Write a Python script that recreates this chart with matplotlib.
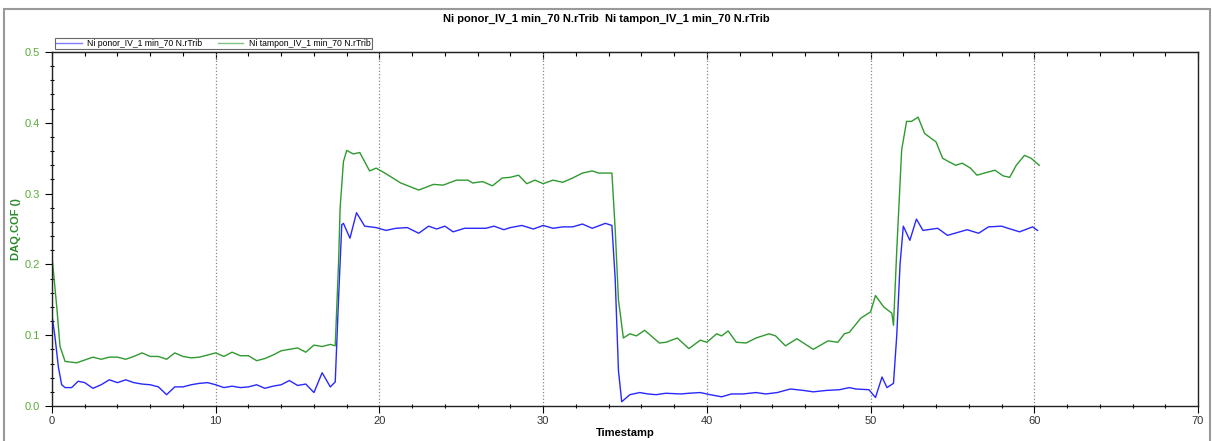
import matplotlib
matplotlib.use('Agg')
import matplotlib.pyplot as plt
from matplotlib.patches import Rectangle
from matplotlib.ticker import MultipleLocator

plt.rcParams['font.family'] = ['Liberation Sans', 'DejaVu Sans']

# Ni ponor (blue)
ponor_t = [0.0, 0.18, 0.39, 0.59, 0.8, 1.2, 1.6, 2.0, 2.5, 3.0, 3.5, 4.0, 4.5, 5.0,
           5.5, 6.0, 6.5, 7.0, 7.5, 8.0, 8.5, 9.0, 9.5, 10.0, 10.5, 11.0, 11.5, 12.0,
           12.5, 13.0, 13.5, 14.0, 14.5, 15.0, 15.5, 16.0, 16.5, 17.0, 17.3, 17.5,
           17.7, 17.8, 18.2, 18.6, 19.1, 19.8, 20.4, 21.0, 21.7, 22.4, 23.0, 23.5,
           24.0, 24.5, 25.2, 25.8, 26.5, 27.0, 27.6, 28.0, 28.7, 29.4, 30.0, 30.6,
           31.2, 31.8, 32.4, 33.0, 33.8, 34.2, 34.4, 34.6, 34.8, 35.3, 35.9, 36.4,
           36.9, 37.5, 38.4, 38.9, 39.6, 40.2, 40.9, 41.5, 42.2, 43.0, 43.6, 44.3,
           45.1, 45.9, 46.5, 47.3, 48.1, 48.7, 49.1, 49.9, 50.3, 50.7, 51.0, 51.4,
           51.6, 51.8, 52.0, 52.4, 52.8, 53.2, 54.1, 54.7, 55.9, 56.6, 57.2, 58.0,
           58.4, 59.1, 59.9, 60.2]
ponor_cof = [0.128, 0.098, 0.055, 0.030, 0.026, 0.026, 0.035, 0.033, 0.025, 0.030,
             0.037, 0.033, 0.037, 0.033, 0.031, 0.030, 0.027, 0.016, 0.027, 0.027,
             0.030, 0.032, 0.033, 0.030, 0.026, 0.028, 0.026, 0.027, 0.030, 0.025,
             0.028, 0.030, 0.036, 0.029, 0.031, 0.019, 0.047, 0.027, 0.034, 0.150,
             0.256, 0.258, 0.237, 0.273, 0.254, 0.252, 0.248, 0.251, 0.252, 0.244,
             0.254, 0.250, 0.254, 0.246, 0.251, 0.251, 0.251, 0.254, 0.249, 0.252,
             0.255, 0.250, 0.255, 0.251, 0.253, 0.253, 0.257, 0.251, 0.258, 0.255,
             0.180, 0.050, 0.006, 0.016, 0.019, 0.017, 0.016, 0.018, 0.017, 0.018,
             0.019, 0.016, 0.013, 0.017, 0.017, 0.019, 0.017, 0.019, 0.024, 0.022,
             0.020, 0.022, 0.023, 0.026, 0.024, 0.023, 0.012, 0.041, 0.026, 0.032,
             0.100, 0.200, 0.254, 0.234, 0.264, 0.248, 0.251, 0.241, 0.249, 0.244,
             0.253, 0.254, 0.251, 0.246, 0.253, 0.248]

# Ni tampon (green)
tampon_t = [0.0, 0.29, 0.49, 0.8, 1.5, 2.0, 2.5, 3.0, 3.5, 4.0, 4.5, 5.0, 5.5, 6.0,
            6.5, 7.0, 7.5, 8.0, 8.5, 9.0, 9.5, 10.0, 10.5, 11.0, 11.5, 12.0, 12.5,
            13.0, 13.5, 14.0, 14.5, 15.0, 15.5, 16.0, 16.5, 17.0, 17.3, 17.5, 17.6,
            17.8, 18.0, 18.4, 18.8, 19.4, 19.8, 20.4, 21.3, 22.4, 23.3, 23.9, 24.7,
            25.4, 25.7, 26.3, 26.9, 27.5, 28.0, 28.5, 29.0, 29.5, 30.0, 30.6, 31.2,
            31.8, 32.4, 33.0, 33.4, 34.2, 34.4, 34.6, 34.9, 35.3, 35.7, 36.2, 36.6,
            37.1, 37.5, 38.2, 38.9, 39.6, 40.0, 40.6, 40.9, 41.3, 41.8, 42.4, 43.0,
            43.8, 44.2, 44.8, 45.5, 46.5, 47.4, 48.0, 48.4, 48.7, 49.4, 50.0, 50.3,
            50.8, 51.3, 51.4, 51.6, 51.9, 52.2, 52.5, 52.9, 53.3, 53.7, 54.0, 54.4,
            54.7, 55.2, 55.6, 56.1, 56.5, 57.1, 57.6, 58.1, 58.5, 58.9, 59.4, 59.8,
            60.3]
tampon_cof = [0.211, 0.140, 0.084, 0.063, 0.061, 0.065, 0.069, 0.066, 0.069, 0.069,
              0.066, 0.070, 0.075, 0.070, 0.070, 0.066, 0.075, 0.070, 0.068, 0.069,
              0.072, 0.075, 0.070, 0.076, 0.071, 0.071, 0.064, 0.067, 0.072, 0.078,
              0.080, 0.082, 0.076, 0.086, 0.084, 0.087, 0.085, 0.200, 0.280, 0.345,
              0.361, 0.356, 0.358, 0.332, 0.336, 0.328, 0.315, 0.305, 0.313, 0.312,
              0.319, 0.319, 0.315, 0.317, 0.311, 0.322, 0.323, 0.326, 0.314, 0.319,
              0.314, 0.319, 0.316, 0.322, 0.329, 0.332, 0.329, 0.329, 0.250, 0.150,
              0.096, 0.102, 0.099, 0.107, 0.099, 0.089, 0.090, 0.096, 0.081, 0.093,
              0.090, 0.102, 0.099, 0.106, 0.090, 0.089, 0.096, 0.102, 0.099, 0.085,
              0.095, 0.080, 0.092, 0.090, 0.102, 0.104, 0.124, 0.133, 0.156, 0.140,
              0.131, 0.114, 0.220, 0.362, 0.402, 0.402, 0.408, 0.385, 0.378, 0.373,
              0.350, 0.346, 0.340, 0.343, 0.336, 0.326, 0.330, 0.333, 0.325, 0.323,
              0.340, 0.354, 0.350, 0.340]

label_ponor = 'Ni ponor_IV_1 min_70 N.rTrib'
label_tampon = 'Ni tampon_IV_1 min_70 N.rTrib'

green = '#2f9a2f'
blue = '#2828ff'

fig = plt.figure(figsize=(12.12, 4.41), dpi=100)
ax = fig.add_axes([52 / 1212, 35 / 441, 1146 / 1212, 354 / 441])

ax.plot(ponor_t, ponor_cof, color=blue, lw=1.0, label=label_ponor)
ax.plot(tampon_t, tampon_cof, color=green, lw=1.0, label=label_tampon)

ax.set_xlim(0, 70)
ax.set_ylim(0, 0.5)
ax.xaxis.set_major_locator(MultipleLocator(10))
ax.xaxis.set_minor_locator(MultipleLocator(2))
ax.yaxis.set_major_locator(MultipleLocator(0.1))
ax.yaxis.set_minor_locator(MultipleLocator(0.02))
ax.yaxis.set_major_formatter(matplotlib.ticker.FormatStrFormatter('%.1f'))

ax.tick_params(axis='both', which='major', labelsize=8, length=5, width=0.8, direction='out')
ax.tick_params(axis='both', which='minor', length=3, width=0.8, direction='inout')
ax.tick_params(axis='x', labelcolor='#333333', pad=2)
ax.tick_params(axis='y', labelcolor='#5aaa3a')

# ticks along the top spine point inward
top = ax.secondary_xaxis('top')
top.xaxis.set_major_locator(MultipleLocator(10))
top.xaxis.set_minor_locator(MultipleLocator(2))
top.tick_params(which='major', direction='in', length=5, width=0.8, labeltop=False)
top.tick_params(which='minor', direction='in', length=3, width=0.8)
top.spines['top'].set_color('#222222')

ax.grid(axis='x', which='major', linestyle=':', color='#888888', lw=0.9)

for s in ax.spines.values():
    s.set_color('#222222')
    s.set_linewidth(1.0)

ax.set_xlabel('Timestamp', fontsize=8, fontweight='bold', labelpad=2)
ax.set_ylabel('DAQ.COF ()', fontsize=8, fontweight='bold', color='#2a8a2a', labelpad=2.5)

fig.suptitle(label_ponor + '  ' + label_tampon, fontsize=8, fontweight='bold', y=0.968)

leg = ax.legend(loc='lower left', bbox_to_anchor=(0.0, 1.0), ncol=2, fontsize=6.2,
                frameon=True, fancybox=False, borderpad=0.15, handlelength=3.0,
                handletextpad=0.6, columnspacing=1.8, borderaxespad=0.3)
leg.get_frame().set_edgecolor('#444444')
leg.get_frame().set_linewidth(0.8)
for line in leg.get_lines():
    line.set_alpha(0.6)

fig.patches.append(Rectangle((4 / 1212, -0.01), 1206 / 1212, 1 - 9 / 441 + 0.01,
                             transform=fig.transFigure, fill=False,
                             edgecolor='#999999', lw=1.5))

fig.savefig('out.png', dpi=100)
